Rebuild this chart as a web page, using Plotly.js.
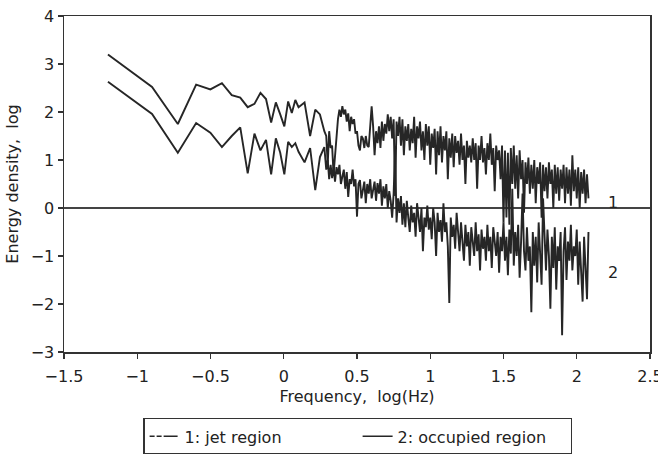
<!DOCTYPE html>
<html>
<head>
<meta charset="utf-8">
<script src="https://cdn.plot.ly/plotly-3.0.1.min.js"></script>
<style>html,body{margin:0;padding:0;background:#fff;}#chart{width:658px;height:454px;}</style>
</head>
<body>
<div id="chart"></div>
<script>
// log10 frequency (Hz)
const freqLog = [
  -1.2, -0.899, -0.723, -0.598, -0.501, -0.422, -0.355, -0.297, -0.246, -0.2,
  -0.159, -0.121, -0.086, -0.054, -0.024, 0.004, 0.030, 0.055, 0.079, 0.101,
  0.142, 0.18, 0.215, 0.247, 0.277,
  0.29, 0.30, 0.31, 0.32, 0.33, 0.34, 0.35, 0.36, 0.37, 0.38,
  0.39, 0.40, 0.41, 0.42, 0.43, 0.44, 0.45, 0.46, 0.47, 0.48,
  0.49, 0.50, 0.51, 0.52, 0.53, 0.54, 0.55, 0.56, 0.57, 0.58,
  0.59, 0.60, 0.61, 0.62, 0.63, 0.64, 0.65, 0.66, 0.67, 0.68,
  0.69, 0.70, 0.71, 0.72, 0.73, 0.74, 0.75, 0.76, 0.77, 0.78,
  0.79, 0.80, 0.81, 0.82, 0.83, 0.84, 0.85, 0.86, 0.87, 0.88,
  0.89, 0.90, 0.91, 0.92, 0.93, 0.94, 0.95, 0.96, 0.97, 0.98,
  0.99, 1.00, 1.01, 1.02, 1.03, 1.04, 1.05, 1.06, 1.07, 1.08,
  1.09, 1.10, 1.11, 1.12, 1.13, 1.14, 1.15, 1.16, 1.17, 1.18,
  1.19, 1.20, 1.21, 1.22, 1.23, 1.24, 1.25, 1.26, 1.27, 1.28,
  1.29, 1.30, 1.31, 1.32, 1.33, 1.34, 1.35, 1.36, 1.37, 1.38,
  1.39, 1.40, 1.41, 1.42, 1.43, 1.44, 1.45, 1.46, 1.47, 1.48,
  1.49, 1.50, 1.51, 1.52, 1.53, 1.54, 1.55, 1.56, 1.57, 1.58,
  1.59, 1.60, 1.61, 1.62, 1.63, 1.64, 1.65, 1.66, 1.67, 1.68,
  1.69, 1.70, 1.71, 1.72, 1.73, 1.74, 1.75, 1.76, 1.77, 1.78,
  1.79, 1.80, 1.81, 1.82, 1.83, 1.84, 1.85, 1.86, 1.87, 1.88,
  1.89, 1.90, 1.91, 1.92, 1.93, 1.94, 1.95, 1.96, 1.97, 1.98,
  1.99, 2.00, 2.01, 2.02, 2.03, 2.04, 2.05, 2.06, 2.07, 2.08
];

// 1: jet region (log energy density)
const jetRegion = [
  3.2, 2.52, 1.75, 2.57, 2.47, 2.6, 2.35, 2.3, 2.1, 2.17,
  2.4, 2.27, 1.78, 2.2, 1.95, 1.7, 2.22, 1.98, 2.25, 2.1,
  2.2, 1.5, 2.05, 1.95, 1.6,
  1.5, 0.9, 1.6, 1.25, 1.3, 0.7, 1.1, 1.6, 1.85, 2.05,
  1.9, 2.12, 1.95, 2.05, 1.8, 1.97, 1.6, 1.9, 1.75, 1.85,
  1.55, 1.6, 1.3, 1.2, 1.5, 1.45, 1.25, 1.5, 1.3, 1.27,
  1.8, 2.12, 1.7, 1.1, 1.6, 1.35, 1.7, 1.25, 1.8, 1.4,
  1.75, 1.55, 1.95, 1.6, 1.9, 1.45, 1.85, 0.25, 1.8, 1.5,
  1.9, 1.3, 1.85, 1.1, 1.7, 1.4, 1.75, 1.2, 1.65, 1.35,
  1.9, 1.05, 1.7, 1.45, 1.8, 1.2, 1.6, 1.0, 1.75, 1.3,
  1.7, 0.9, 1.55, 1.25, 1.65, 0.7, 1.6, 1.1, 1.7, 0.95,
  1.5, 1.2, 1.6, 0.6, 1.45, 1.05, 1.55, 0.85, 1.5, 1.15,
  1.4, 0.9, 1.55, 1.0, 1.3, 0.5, 1.4, 1.05, 1.3, 0.95,
  1.45, 1.0, 1.35, 0.4, 1.3, 1.0, 1.5, 0.95, 1.25, 0.7,
  1.35, 1.0, 1.55, 0.9, 1.25, 0.35, 1.3, 1.0, 1.2, 0.6,
  1.3, -0.3, 1.2, -0.2, 1.15, -0.35, 1.25, 0.5, 1.3, 0.4,
  1.1, 0.2, 1.2, 0.6, 1.0, -0.1, 0.95, 0.5, 1.05, 0.3,
  0.9, 0.4, 1.0, 0.1, 0.85, 0.5, 0.95, -0.2, 0.9, 0.35,
  0.85, 0.2, 0.95, 0.5, 0.8, 0.0, 0.9, 0.3, 0.85, 0.15,
  0.8, 0.4, 0.9, 0.1, 0.85, 0.3, 0.8, 0.05, 1.1, 0.35,
  0.8, 0.2, 0.85, 0.0, 0.75, 0.3, 0.8, 0.1, 0.7, 0.2
];

// 2: occupied region (log energy density)
const occupiedRegion = [
  2.63, 1.96, 1.15, 1.77, 1.57, 1.27, 1.5, 1.68, 0.72, 1.55,
  1.2, 1.42, 0.7, 1.45, 1.15, 0.7, 1.38, 1.27, 1.35, 1.17,
  0.95, 1.25, 0.37, 1.06, 1.27,
  0.8, 1.0, 0.6, 0.9, 0.62, 0.85, 0.55, 0.85, 0.7, 0.9,
  0.5, 0.65, 0.8, 0.4, 0.75, 0.23, 0.6, 0.5, 0.8, 0.45,
  0.6, -0.18, 0.5, 0.58, 0.2, 0.37, 0.55, 0.1, 0.5, 0.3,
  0.6, 0.2, 0.37, 0.55, 0.15, 0.52, 0.3, 0.6, 0.05, 0.45,
  0.2, 0.5, 0.0, 0.35, 0.15, -0.2, 0.3, 1.2, -0.3, 0.2,
  -0.1, 0.25, -0.35, 0.1, -0.4, 0.15, -0.2, -0.5, 0.05, -0.3,
  -0.1, -0.6, 0.1, -0.3, -0.5, 0.0, -0.9, -0.2, -0.4, 0.05,
  -0.45, -0.2, -0.65, 0.0, -0.3, -1.0, -0.1, -0.5, -0.25, -0.7,
  0.1, -0.5, -0.3, -0.8, -1.98, -0.2, -0.6, -0.35, -0.85, -0.1,
  -0.5, -0.9, -0.3, -0.7, -1.1, -0.35, -0.8, -0.5, -1.2, -0.4,
  -0.7, -1.0, -0.3, -0.9, -0.55, -1.3, -0.45, -0.85, -0.6, -1.1,
  -0.35, -0.9, -0.6, -1.25, -0.4, -0.8, -1.0, -0.5, -1.35, -0.6,
  -0.9, -0.3, -1.1, -0.6, -1.4, -0.45, -0.95, 0.4, -1.2, -0.5,
  -1.0, -0.35, -1.45, -0.7, 0.3, -0.9, -1.3, -0.4, -1.1, -0.8,
  -2.17, -0.5, -1.2, -0.6, -1.55, -0.3, -1.0, -1.6, 0.2, -0.7,
  -1.3, -0.45, -1.0, -2.1, -0.6, -1.25, -0.4, -1.7, -0.8, -1.1,
  -0.5, -2.65, -0.9, -0.4, -1.5, -0.7, -1.1, -0.35, -1.3, -0.8,
  -1.0, -0.45, -1.6, -0.7, -1.2, -1.95, -0.6, -1.3, -1.9, -0.5
];

const seriesNames = ['1: jet region', '2: occupied region'];
const curveLabels = ['1', '2'];
const labelPos = [[2.25, 0.12], [2.25, -1.35]];

const FONT = 'DejaVu Sans, sans-serif';
const INK = '#262626';

const traces = [
  {x: freqLog, y: jetRegion, type: 'scatter', mode: 'lines', showlegend: false,
   line: {color: INK, width: 1.9}},
  {x: freqLog, y: occupiedRegion, type: 'scatter', mode: 'lines', showlegend: false,
   line: {color: INK, width: 1.9}},
  {x: [null], y: [null], type: 'scatter', mode: 'lines', name: seriesNames[0],
   line: {color: INK, width: 1.4, dash: '5px,2px,5px,2px,14px'}},
  {x: [null], y: [null], type: 'scatter', mode: 'lines', name: seriesNames[1],
   line: {color: INK, width: 1.4}}
];

const axisCommon = {
  showline: true, mirror: true, linecolor: '#333', linewidth: 1.5,
  ticks: 'outside', ticklen: 5, tickwidth: 1.2, tickcolor: '#333',
  showgrid: false, tickfont: {family: FONT, size: 16, color: '#222'}
};

const layout = {
  width: 658, height: 454,
  margin: {l: 64, r: 8, t: 16, b: 102, autoexpand: false},
  paper_bgcolor: '#fff', plot_bgcolor: '#fff',
  font: {family: FONT, size: 16, color: '#222'},
  xaxis: Object.assign({}, axisCommon, {
    range: [-1.5, 2.5], dtick: 0.5, tick0: -1.5, zeroline: false,
    ticklabeloverflow: 'allow', ticklabelstandoff: 4,
    title: {text: 'Frequency,  log(Hz)', font: {family: FONT, size: 16, color: '#222'}, standoff: 6}
  }),
  yaxis: Object.assign({}, axisCommon, {
    range: [-3, 4], dtick: 1, zeroline: true, zerolinecolor: '#444', zerolinewidth: 1.3,
    title: {text: 'Energy density,  log', font: {family: FONT, size: 16, color: '#222'}, standoff: 8}
  }),
  showlegend: true,
  legend: {
    orientation: 'h', x: 0.135, xanchor: 'left', y: -0.196, yanchor: 'top',
    bordercolor: '#333', borderwidth: 1.5, bgcolor: '#fff',
    font: {family: FONT, size: 16, color: '#222'},
    entrywidth: 168, entrywidthmode: 'pixels'
  },
  annotations: curveLabels.map((t, i) => ({
    x: labelPos[i][0], y: labelPos[i][1], xref: 'x', yref: 'y', text: t,
    showarrow: false, font: {family: FONT, size: 16, color: '#222'}
  }))
};

Plotly.newPlot('chart', traces, layout, {displayModeBar: false, staticPlot: true});
</script>
</body>
</html>
